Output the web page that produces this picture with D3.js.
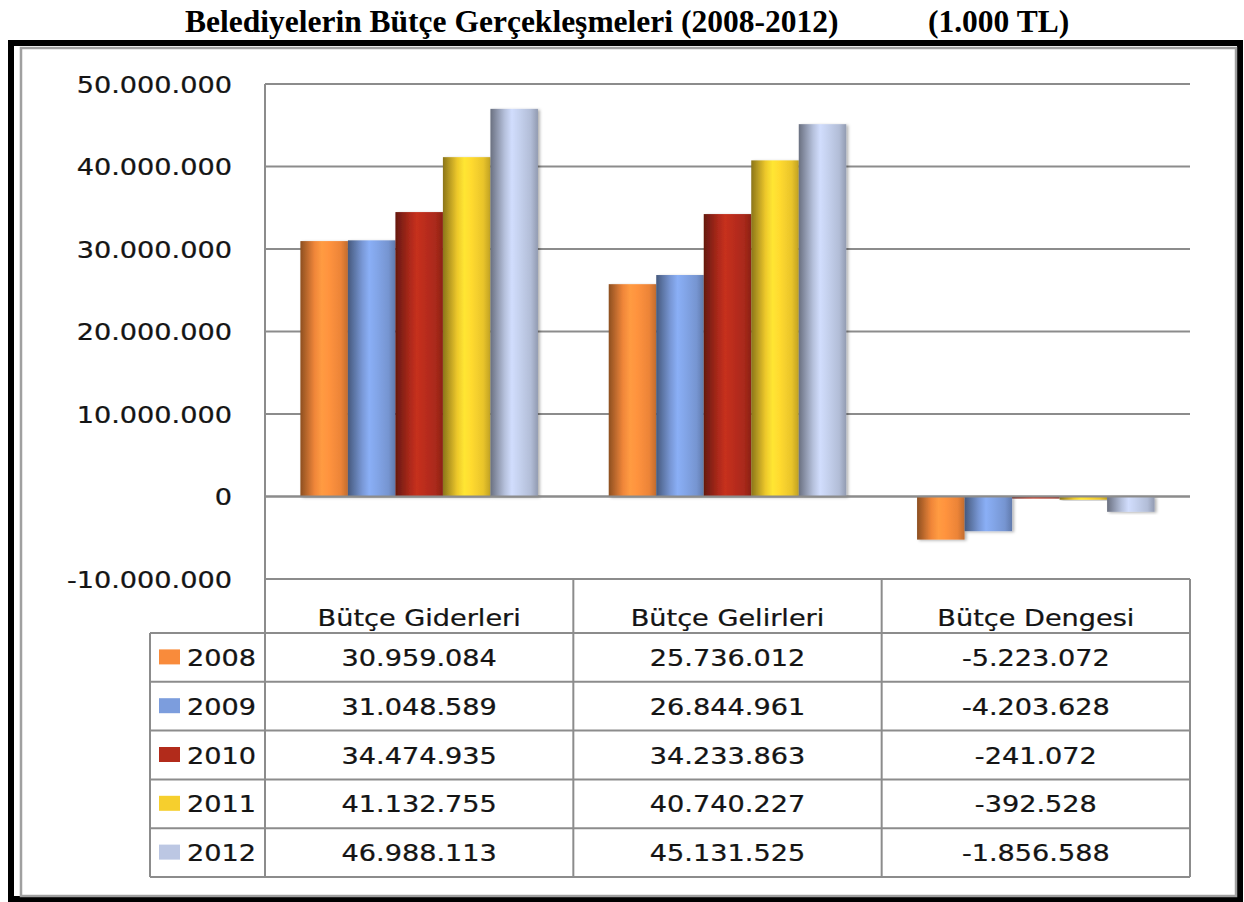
<!DOCTYPE html>
<html>
<head>
<meta charset="utf-8">
<script src="https://cdn.jsdelivr.net/npm/d3@7"></script>
<style>
  body { margin: 0; background: #fff; }
  svg { display: block; }
</style>
</head>
<body>
<svg id="drawing_region"></svg>
<script>
// data (1.000 TL)
const categories = ["Bütçe Giderleri", "Bütçe Gelirleri", "Bütçe Dengesi"];
const years = ["2008", "2009", "2010", "2011", "2012"];
const giderler = [30959084, 31048589, 34474935, 41132755, 46988113];
const gelirler = [25736012, 26844961, 34233863, 40740227, 45131525];
const denge = [-5223072, -4203628, -241072, -392528, -1856588];
const yTicks = [-10000000, 0, 10000000, 20000000, 30000000, 40000000, 50000000];
const colors = ["#f98b3b", "#7c9ddd", "#b22b1b", "#f6cf2d", "#bcc7e3"];
const title = "Belediyelerin Bütçe Gerçekleşmeleri (2008-2012)";
const unit = "(1.000 TL)";

const series = [giderler, gelirler, denge];

class BudgetChart {
    constructor(config) {
        this.config = config;
        this.init();
    }

    init() {
        let self = this;
        const c = self.config;
        self.svg = d3.select(c.parent)
            .attr('width', c.width)
            .attr('height', c.height);

        self.locale = d3.formatLocale({ decimal: ",", thousands: ".", grouping: [3], currency: ["", ""], minus: "-" });
        self.fmt = self.locale.format(",d");

        self.xscale = d3.scaleBand().domain(categories).range([265, 1190]);
        self.inner = d3.scaleBand().domain(years)
            .range([0, self.xscale.bandwidth()])
            .paddingInner(0).paddingOuter(0.745);
        self.yscale = d3.scaleLinear().domain([-10000000, 50000000]).range([579, 84]);
        self.rows = d3.scaleBand().domain(years).range([633, 877]);

        const defs = self.svg.append('defs');
        colors.forEach((col, i) => {
            const base = d3.color(col);
            const g = defs.append('linearGradient')
                .attr('id', 'grad' + i)
                .attr('x1', '0%').attr('x2', '100%').attr('y1', '0%').attr('y2', '0%');
            const stops = [
                [0, base.darker(1.6)],
                [0.12, base.darker(0.9)],
                [0.3, base.darker(0.1)],
                [0.45, base.brighter(0.3)],
                [0.6, base.brighter(0.15)],
                [0.85, base.darker(0.15)],
                [1, base.darker(0.7)]
            ];
            stops.forEach(s => g.append('stop').attr('offset', s[0]).attr('stop-color', s[1]));
        });
        const f = defs.append('filter').attr('id', 'shadow')
            .attr('x', '-10%').attr('y', '-10%').attr('width', '130%').attr('height', '130%');
        f.append('feDropShadow').attr('dx', 2).attr('dy', 1).attr('stdDeviation', 1.5)
            .attr('flood-color', '#000').attr('flood-opacity', 0.3);
    }

    // stretched text like the original picture
    label(x, y, str, anchor) {
        const g = this.svg.append('g')
            .attr('transform', `translate(${x},${y}) scale(1.18,1)`);
        g.append('text')
            .attr('text-anchor', anchor)
            .attr('font-family', 'DejaVu Sans, Verdana, sans-serif')
            .attr('font-size', 23)
            .attr('fill', '#141414')
            .attr('stroke', '#141414')
            .attr('stroke-width', 0.25)
            .text(str);
    }

    render() {
        let self = this;
        const svg = self.svg;
        const x = self.xscale, y = self.yscale, inner = self.inner, rows = self.rows;
        const line = '#8c8c8c';

        // frame
        svg.append('rect').attr('x', 11).attr('y', 43).attr('width', 1229).attr('height', 856)
            .attr('fill', 'none').attr('stroke', '#000').attr('stroke-width', 6);
        svg.append('rect').attr('x', 21).attr('y', 48).attr('width', 1215).attr('height', 848)
            .attr('fill', 'none').attr('stroke', '#a0a0a0').attr('stroke-width', 2.5);

        // title
        svg.append('text').attr('x', 185).attr('y', 32)
            .attr('font-family', 'Liberation Serif, Times New Roman, serif')
            .attr('font-weight', 'bold').attr('font-size', 31.5).attr('fill', '#000')
            .text(title);
        svg.append('text').attr('x', 928).attr('y', 32)
            .attr('font-family', 'Liberation Serif, Times New Roman, serif')
            .attr('font-weight', 'bold').attr('font-size', 31.5).attr('fill', '#000')
            .text(unit);

        // gridlines
        svg.append('g').selectAll('line').data(yTicks).join('line')
            .attr('x1', 265).attr('x2', 1190)
            .attr('y1', d => y(d)).attr('y2', d => y(d))
            .attr('stroke', line).attr('stroke-width', 2);

        // y tick labels
        yTicks.forEach(t => self.label(232, y(t) + 8.5, self.fmt(t), 'end'));

        // bars
        categories.forEach((cat, ci) => {
            years.forEach((yr, yi) => {
                const v = series[ci][yi];
                const y0 = y(Math.max(0, v)), y1 = y(Math.min(0, v));
                svg.append('rect')
                    .attr('x', x(cat) + inner(yr))
                    .attr('y', y0)
                    .attr('width', inner.bandwidth())
                    .attr('height', Math.max(1, y1 - y0))
                    .attr('fill', `url(#grad${yi})`)
                    .attr('filter', 'url(#shadow)');
            });
        });

        // zero line on top of the bars' base
        svg.append('line').attr('x1', 265).attr('x2', 1190)
            .attr('y1', y(0)).attr('y2', y(0))
            .attr('stroke', line).attr('stroke-width', 2);

        // data table
        const tg = svg.append('g').attr('stroke', line).attr('stroke-width', 2).attr('fill', 'none');
        const colEdges = categories.map(cat => x(cat) + x.bandwidth());
        tg.append('line').attr('x1', 265).attr('x2', 265).attr('y1', y(50000000)).attr('y2', 877);
        colEdges.forEach(cx => tg.append('line').attr('x1', cx).attr('x2', cx).attr('y1', y(-10000000)).attr('y2', 877));
        tg.append('line').attr('x1', 150).attr('x2', 150).attr('y1', 633).attr('y2', 877);
        years.forEach(yr => tg.append('line').attr('x1', 150).attr('x2', 1190)
            .attr('y1', rows(yr)).attr('y2', rows(yr)));
        tg.append('line').attr('x1', 150).attr('x2', 1190).attr('y1', 877).attr('y2', 877);

        // headers
        categories.forEach(cat => self.label(x(cat) + x.bandwidth() / 2, 626, cat, 'middle'));

        // rows
        years.forEach((yr, yi) => {
            const cy = rows(yr) + rows.bandwidth() / 2;
            svg.append('rect').attr('x', 159).attr('y', cy - 8).attr('width', 21).attr('height', 15)
                .attr('fill', colors[yi]);
            self.label(187, cy + 8.5, yr, 'start');
            categories.forEach((cat, ci) => {
                self.label(x(cat) + x.bandwidth() / 2, cy + 8.5, self.fmt(series[ci][yi]), 'middle');
            });
        });
    }
}

const chart = new BudgetChart({ parent: '#drawing_region', width: 1244, height: 902 });
chart.render();
</script>
</body>
</html>
